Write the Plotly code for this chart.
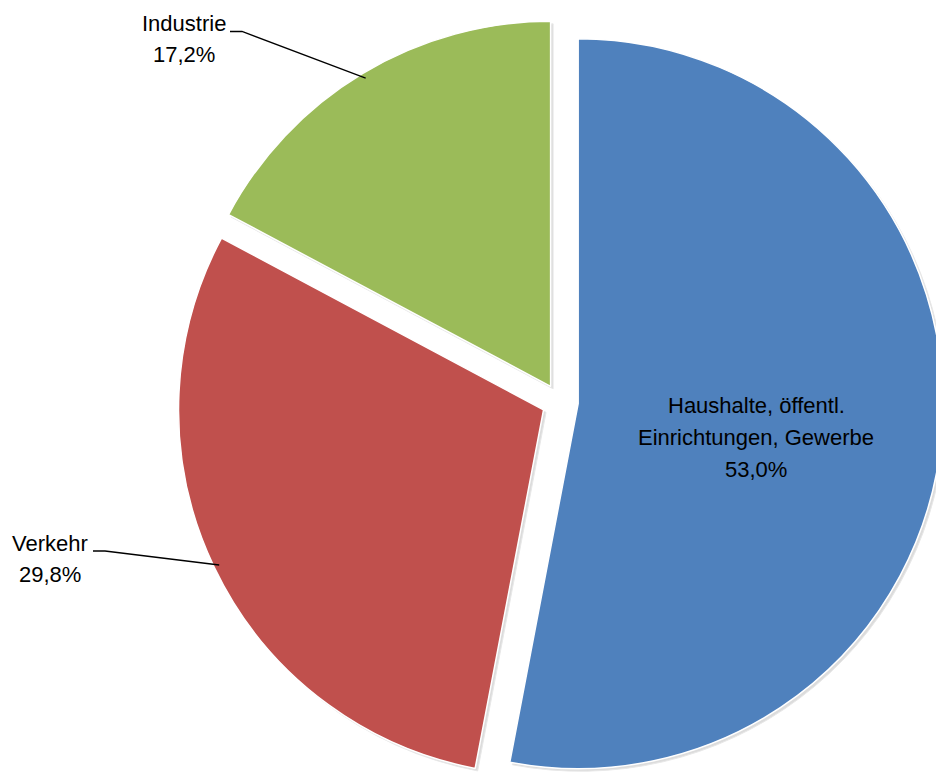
import math
import plotly.graph_objects as go

# Endenergieverbrauch nach Sektoren (Anteile in %)
categories = ["Haushalte, öffentl.<br>Einrichtungen, Gewerbe", "Verkehr", "Industrie"]
shares = [53.0, 29.8, 17.2]
colors = ["#4F81BD", "#C0504D", "#9BBB59"]

PULL = 0.05
FONT = "Liberation Sans, Arial, sans-serif"
FONT_SIZE = 22
LINE_PITCH = 31.5

# Canvas (larger than the visible window so the pie runs off the right/bottom edge)
W, H = 1120, 800
DOM_X = [0.0, 1.0]
DOM_Y = [1 - 785.25 / H, 1 - 18.75 / H]


def pct(v):
    return f"{v:.1f}%".replace(".", ",")


# Pie geometry, computed the same way plotly.js lays out a pie in its domain
box_w = W * (DOM_X[1] - DOM_X[0])
box_h = H * (DOM_Y[1] - DOM_Y[0])
R = min(box_w, box_h) / 2 / (1 + PULL)
CX = W * (DOM_X[0] + DOM_X[1]) / 2
CY = H * (1 - DOM_Y[0]) - box_h / 2


def arc_mid(i):
    """Pixel position of the outer arc midpoint of slice i (pulled)."""
    total = sum(shares)
    start = sum(shares[:i]) / total * 2 * math.pi
    mid = start + shares[i] / total * math.pi
    dx, dy = math.sin(mid), -math.cos(mid)
    cx = CX + dx * R * PULL
    cy = CY + dy * R * PULL
    return cx + dx * R * 0.985, cy + dy * R * 0.985


def px2paper(x, y):
    return x / W, 1 - y / H


# Soft drop shadow: same pie, a little offset to the lower right
SH = 2.5
shadow = go.Pie(
    values=shares,
    sort=False,
    direction="clockwise",
    rotation=0,
    pull=[PULL] * len(shares),
    marker=dict(colors=["#dcdcdc"] * len(shares), line=dict(color="#e8e8e8", width=1)),
    textinfo="none",
    hoverinfo="skip",
    showlegend=False,
    domain=dict(x=[2 * SH / W, 1.0], y=[DOM_Y[0] - SH / H, DOM_Y[1] - SH / H]),
)

pie = go.Pie(
    labels=categories,
    values=shares,
    sort=False,
    direction="clockwise",
    rotation=0,
    pull=[PULL] * len(shares),
    marker=dict(colors=colors, line=dict(color="white", width=1.5)),
    textinfo="none",
    hoverinfo="label+percent",
    showlegend=False,
    domain=dict(x=DOM_X, y=DOM_Y),
)

fig = go.Figure([shadow, pie])

# Data labels (one annotation per text line, first-line anchor given in px)
label_pos = {0: (756, 406), 1: (50, 543), 2: (184, 23)}
annotations = []
for i, (x, y) in label_pos.items():
    lines = categories[i].split("<br>") + [pct(shares[i])]
    for k, line in enumerate(lines):
        px, py = px2paper(x, y + k * LINE_PITCH)
        annotations.append(
            dict(
                x=px, y=py, xref="paper", yref="paper",
                text=line,
                showarrow=False, xanchor="center", yanchor="middle", align="center",
                font=dict(family=FONT, size=FONT_SIZE, color="#000000"),
            )
        )

# Leader lines for the outside labels
leader_start = {1: (93, 551), 2: (230, 31.5)}
shapes = []
for i, (sx, sy) in leader_start.items():
    ex, ey = arc_mid(i)
    kx = sx + 12
    pts = [px2paper(sx, sy), px2paper(kx, sy), px2paper(ex, ey)]
    path = "M {} {} L {} {} L {} {}".format(*[c for p in pts for c in p])
    shapes.append(dict(type="path", path=path, xref="paper", yref="paper",
                       line=dict(color="#000000", width=1.3)))

fig.update_layout(
    width=W, height=H, autosize=False,
    margin=dict(l=0, r=0, t=0, b=0, pad=0),
    paper_bgcolor="white", plot_bgcolor="white",
    annotations=annotations, shapes=shapes,
)

fig.write_html(
    "out.html",
    post_script="document.documentElement.style.overflow='hidden';document.body.style.overflow='hidden';",
)
